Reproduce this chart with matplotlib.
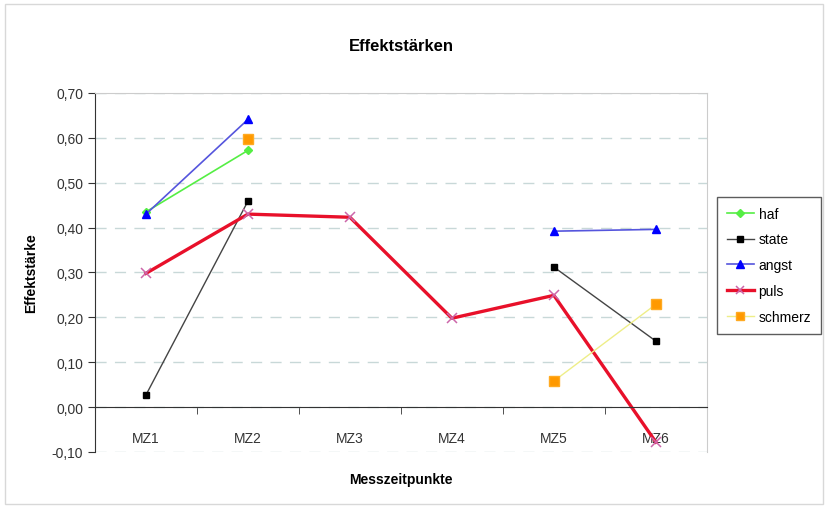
import numpy as np
import matplotlib
matplotlib.use('Agg')
import matplotlib.pyplot as plt
from matplotlib.patches import Rectangle

plt.rcParams['font.family'] = ['Liberation Sans', 'DejaVu Sans']

categories = ['MZ1', 'MZ2', 'MZ3', 'MZ4', 'MZ5', 'MZ6']
haf = [0.435, 0.572, np.nan, np.nan, np.nan, np.nan]
state = [0.027, 0.459, np.nan, np.nan, 0.312, 0.147]
angst = [0.430, 0.641, np.nan, np.nan, 0.392, 0.396]
puls = [0.298, 0.430, 0.423, 0.198, 0.249, -0.078]
schmerz = [np.nan, 0.597, np.nan, np.nan, 0.058, 0.229]

x = np.arange(len(categories))

fig = plt.figure(figsize=(8.28, 5.10), dpi=100)
ax = fig.add_axes([0.1147, 0.1118, 0.739, 0.704])

# Rahmen um das ganze Diagramm
fig.patches.append(Rectangle((0.006, 0.01), 0.988, 0.98, transform=fig.transFigure,
                             fill=False, edgecolor='#d8d8d8', linewidth=1))

ax.plot(x, haf, color='#55ee44', marker='D', markersize=4.5, linewidth=1.2, label='haf')
ax.plot(x, state, color='#444444', marker='s', markersize=4.5, markerfacecolor='black',
        markeredgecolor='black', linewidth=1.0, label='state')
ax.plot(x, angst, color='#5555dd', marker='^', markersize=6, markerfacecolor='#0000ff',
        markeredgecolor='#0000ff', linewidth=1.2, label='angst')
ax.plot(x, puls, color='#e8102a', marker='x', markersize=7, markeredgecolor='#cc66aa',
        markeredgewidth=1.1, linewidth=2.4, label='puls')
ax.plot(x, schmerz, color='#eeee88', marker='s', markersize=7, markerfacecolor='#ff9900',
        markeredgecolor='#ffaa22', linewidth=1.0, label='schmerz')

ax.set_xlim(-0.5, 5.5)
ax.set_ylim(-0.10, 0.70)
ax.set_yticks(np.arange(-0.1, 0.71, 0.1))
ax.set_yticklabels([f'{v:.2f}'.replace('.', ',') for v in np.arange(-0.1, 0.71, 0.1)],
                   fontsize=10, color='#333333')
ax.yaxis.grid(True, linestyle=(0, (8, 6)), color='#c8d8d8', linewidth=1)
ax.set_axisbelow(True)

ax.spines['bottom'].set_position(('data', 0))
ax.spines['bottom'].set_color('#333333')
ax.spines['left'].set_color('#333333')
ax.spines['top'].set_color('#cccccc')
ax.spines['right'].set_color('#cccccc')
ax.tick_params(axis='y', direction='out', length=5, color='#333333')

ax.set_xticks(x)
ax.set_xticklabels(categories, fontsize=10, color='#333333')
ax.tick_params(axis='x', which='major', length=0, pad=17)
ax.set_xticks(np.arange(-0.5, 5.6, 1.0), minor=True)
ax.tick_params(axis='x', which='minor', direction='out', length=5, color='#333333')

ax.set_title('Effektstärken', fontsize=12, fontweight='bold', pad=31)
ax.set_xlabel('Messzeitpunkte', fontsize=10, fontweight='bold', labelpad=20)
ax.set_ylabel('Effektstärke', fontsize=10, fontweight='bold', labelpad=10)

leg = ax.legend(loc='center left', bbox_to_anchor=(1.005, 0.52), fontsize=10,
                frameon=True, fancybox=False, edgecolor='#333333', handlelength=2.0,
                borderpad=0.7, labelspacing=0.85, handletextpad=0.3, markerscale=0.9)
leg.get_frame().set_linewidth(1.0)

fig.savefig('out.png', dpi=100)
